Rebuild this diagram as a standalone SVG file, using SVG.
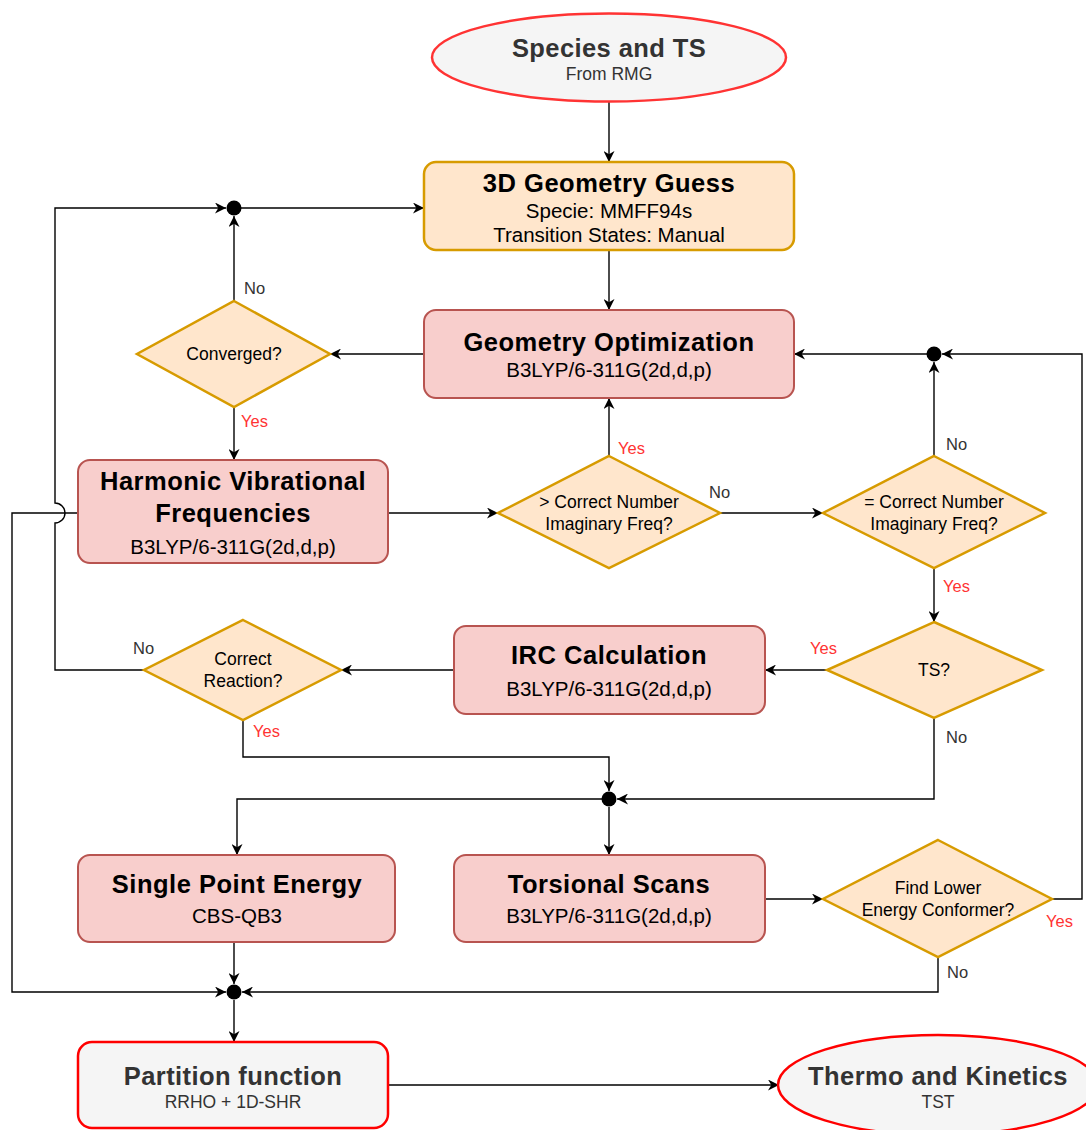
<svg xmlns="http://www.w3.org/2000/svg" width="1086" height="1130" viewBox="0 0 1086 1130">
<style>
text{font-family:"Liberation Sans",Arial,sans-serif;text-anchor:middle}
.t{font-size:25.5px;font-weight:bold;fill:#000;letter-spacing:0.5px}
.ts{font-size:25.5px;font-weight:bold;fill:#333;letter-spacing:0.4px}
.s{font-size:20.5px;fill:#000}
.ss{font-size:17.5px;fill:#333}
.d{font-size:17.5px;fill:#000}
.no{font-size:16.5px;fill:#333;text-anchor:start}
.yes{font-size:16.5px;fill:#ff3333;text-anchor:start}
.pink{fill:#f8cecc;stroke:#b85450;stroke-width:2}
.orange{fill:#ffe6cc;stroke:#d79b00;stroke-width:2.5}
.term{fill:#f5f5f5;stroke:#ff3333;stroke-width:2.5}
.c{fill:none;stroke:#000;stroke-width:1.4}
.dot{fill:#000}
</style>
<defs>
<marker id="a" viewBox="0 0 10 10" refX="10" refY="5" markerWidth="11" markerHeight="11" markerUnits="userSpaceOnUse" orient="auto">
<path d="M0,0 L10,5 L0,10 L3,5 z" fill="#000"/>
</marker>
</defs>
<g id="connectors">
<path class="c" d="M609,101 V162" marker-end="url(#a)"/>
<path class="c" d="M609,250 V310" marker-end="url(#a)"/>
<path class="c" d="M424,354 H330" marker-end="url(#a)"/>
<path class="c" d="M234,301 V216" marker-end="url(#a)"/>
<path class="c" d="M241,208 H424" marker-end="url(#a)"/>
<path class="c" d="M234,407 V460" marker-end="url(#a)"/>
<path class="c" d="M388,513 H498" marker-end="url(#a)"/>
<path class="c" d="M609,456 V398" marker-end="url(#a)"/>
<path class="c" d="M720,513 H823" marker-end="url(#a)"/>
<path class="c" d="M934,456 V362" marker-end="url(#a)"/>
<path class="c" d="M927,354 H794" marker-end="url(#a)"/>
<path class="c" d="M1052,899 H1082 V354 H942" marker-end="url(#a)"/>
<path class="c" d="M934,568 V622" marker-end="url(#a)"/>
<path class="c" d="M827,670 H765" marker-end="url(#a)"/>
<path class="c" d="M934,718 V799 H617" marker-end="url(#a)"/>
<path class="c" d="M454,670 H341" marker-end="url(#a)"/>
<path class="c" d="M144,670 H55 V523 A10,10 0 0,0 55,503 V208 H226" marker-end="url(#a)"/>
<path class="c" d="M243,720 V757 H609 V791" marker-end="url(#a)"/>
<path class="c" d="M602,799 H237 V855" marker-end="url(#a)"/>
<path class="c" d="M609,807 V855" marker-end="url(#a)"/>
<path class="c" d="M765,899 H823" marker-end="url(#a)"/>
<path class="c" d="M938,957 V992 H242" marker-end="url(#a)"/>
<path class="c" d="M234,942 V984" marker-end="url(#a)"/>
<path class="c" d="M78,513 H12 V992 H226" marker-end="url(#a)"/>
<path class="c" d="M234,1000 V1042" marker-end="url(#a)"/>
<path class="c" d="M388,1085 H779" marker-end="url(#a)"/>
<circle class="dot" cx="234" cy="208" r="7.5"/>
<circle class="dot" cx="934" cy="354" r="7.5"/>
<circle class="dot" cx="609" cy="799" r="7.5"/>
<circle class="dot" cx="234" cy="992" r="7.5"/>
<text class="no" x="244" y="294">No</text>
<text class="yes" x="241" y="427">Yes</text>
<text class="yes" x="618" y="454">Yes</text>
<text class="no" x="709" y="498">No</text>
<text class="no" x="946" y="450">No</text>
<text class="yes" x="943" y="592">Yes</text>
<text class="yes" x="810" y="654">Yes</text>
<text class="no" x="946" y="743">No</text>
<text class="no" x="133" y="654">No</text>
<text class="yes" x="253" y="737">Yes</text>
<text class="yes" x="1046" y="927">Yes</text>
<text class="no" x="947" y="978">No</text>
</g>
<g id="start">
<ellipse class="term" cx="609" cy="57.5" rx="177" ry="44"/>
<text class="ts" x="609" y="57">Species and TS</text>
<text class="ss" x="609" y="80">From RMG</text>
</g>
<g id="guess">
<rect class="orange" x="424" y="162" width="370" height="88" rx="12"/>
<text class="t" x="609" y="192">3D Geometry Guess</text>
<text class="s" x="609" y="218">Specie: MMFF94s</text>
<text class="s" x="609" y="242">Transition States: Manual</text>
</g>
<g id="geomopt">
<rect class="pink" x="424" y="310" width="370" height="88" rx="12"/>
<text class="t" x="609" y="351">Geometry Optimization</text>
<text class="s" x="609" y="377">B3LYP/6-311G(2d,d,p)</text>
</g>
<g id="converged">
<polygon class="orange" points="234,301 330,354 234,407 137,354"/>
<text class="d" x="234" y="360">Converged?</text>
</g>
<g id="harmonic">
<rect class="pink" x="78" y="460" width="310" height="103" rx="12"/>
<text class="t" x="233" y="490">Harmonic Vibrational</text>
<text class="t" x="233" y="522">Frequencies</text>
<text class="s" x="233" y="554">B3LYP/6-311G(2d,d,p)</text>
</g>
<g id="gtcorrect">
<polygon class="orange" points="609,456 720,513 609,568 498,513"/>
<text class="d" x="609" y="508">&gt; Correct Number</text>
<text class="d" x="609" y="530">Imaginary Freq?</text>
</g>
<g id="eqcorrect">
<polygon class="orange" points="934,456 1045,513 934,568 823,513"/>
<text class="d" x="934" y="508">= Correct Number</text>
<text class="d" x="934" y="530">Imaginary Freq?</text>
</g>
<g id="ts">
<polygon class="orange" points="934,622 1042,670 934,718 827,670"/>
<text class="d" x="934" y="676">TS?</text>
</g>
<g id="irc">
<rect class="pink" x="454" y="626" width="311" height="88" rx="12"/>
<text class="t" x="609" y="664">IRC Calculation</text>
<text class="s" x="609" y="696">B3LYP/6-311G(2d,d,p)</text>
</g>
<g id="reaction">
<polygon class="orange" points="243,620 341,670 243,720 144,670"/>
<text class="d" x="243" y="665">Correct</text>
<text class="d" x="243" y="687">Reaction?</text>
</g>
<g id="spe">
<rect class="pink" x="78" y="855" width="317" height="87" rx="12"/>
<text class="t" x="237" y="893">Single Point Energy</text>
<text class="s" x="237" y="923">CBS-QB3</text>
</g>
<g id="torsion">
<rect class="pink" x="454" y="855" width="311" height="87" rx="12"/>
<text class="t" x="609" y="893">Torsional Scans</text>
<text class="s" x="609" y="923">B3LYP/6-311G(2d,d,p)</text>
</g>
<g id="lower">
<polygon class="orange" points="938,840 1052,899 938,957 823,899"/>
<text class="d" x="938" y="894">Find Lower</text>
<text class="d" x="938" y="916">Energy Conformer?</text>
</g>
<g id="partition">
<rect class="term" x="78" y="1042" width="310" height="86" rx="14" style="stroke:#ff0000"/>
<text class="ts" x="233" y="1085">Partition function</text>
<text class="ss" x="233" y="1108">RRHO + 1D-SHR</text>
</g>
<g id="thermo">
<ellipse class="term" cx="938" cy="1085" rx="160" ry="50" style="stroke:#ff0000"/>
<text class="ts" x="938" y="1085">Thermo and Kinetics</text>
<text class="ss" x="938" y="1108">TST</text>
</g>
</svg>
